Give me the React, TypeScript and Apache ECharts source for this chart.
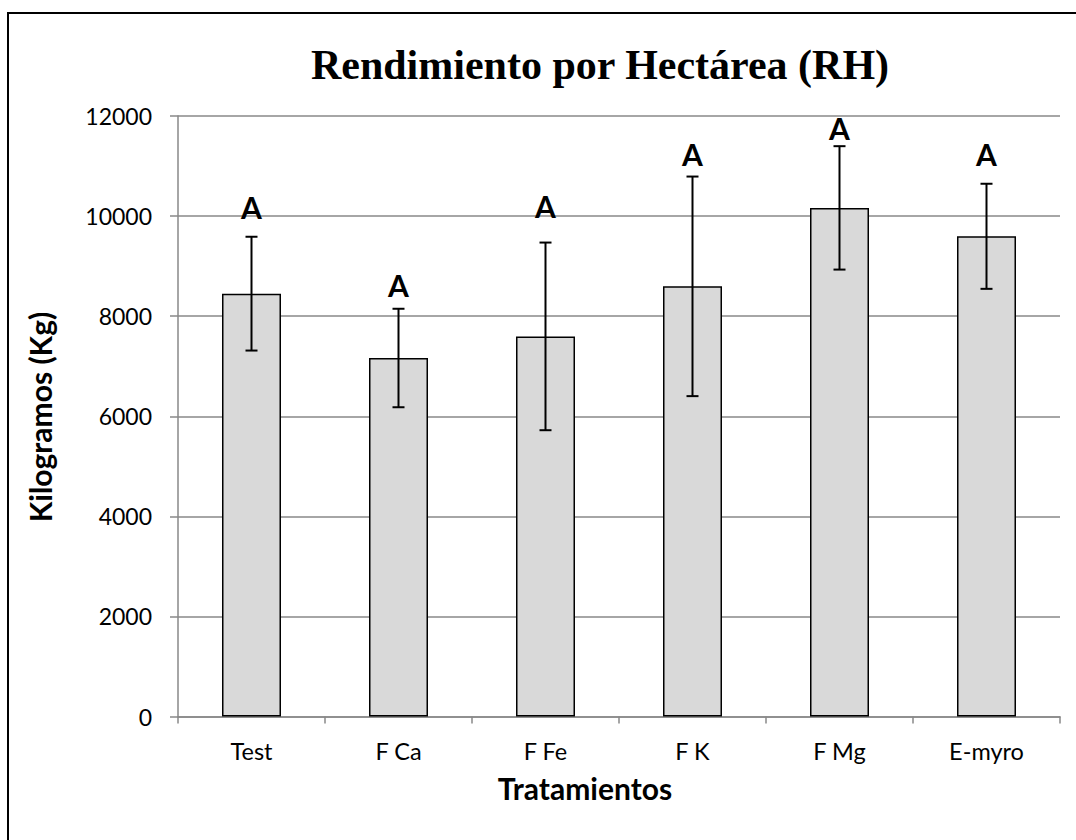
import React, { useEffect, useRef } from "react";
import * as echarts from "echarts";

const categories = ["Test", "F Ca", "F Fe", "F K", "F Mg", "E-myro"];
const means = [8450, 7164, 7596, 8596, 10164, 9596];
const errors = [1137, 984, 1875, 2194, 1233, 1050];
const letters = ["A", "A", "A", "A", "A", "A"];
const letterLevels = [9970, 8410, 9984, 11030, 11550, 11030];
const yTicks = { min: 0, max: 12000, interval: 2000 };

const GRAY = "#888888";

export default function App() {
  const ref = useRef<HTMLDivElement>(null);
  useEffect(() => {
    if (!ref.current) return;
    const chart = echarts.init(ref.current, undefined, { renderer: "svg" });
    const errData = categories.map((_, i) => [i, means[i] - errors[i], means[i] + errors[i]]);
    const letterData = categories.map((_, i) => [i, letterLevels[i]]);
    chart.setOption({
      animation: false,
      backgroundColor: "#ffffff",
      grid: { left: 178, right: 16, top: 116, bottom: 123.5, containLabel: false },
      xAxis: {
        type: "category",
        data: categories,
        axisLine: { show: true, lineStyle: { color: GRAY, width: 1.5 } },
        axisTick: { show: true, length: 7, lineStyle: { color: GRAY, width: 1.5 } },
        axisLabel: { fontFamily: "Lato", fontSize: 23.5, color: "#000", margin: 22 },
      },
      yAxis: {
        type: "value",
        min: yTicks.min,
        max: yTicks.max,
        interval: yTicks.interval,
        axisLine: { show: true, lineStyle: { color: GRAY, width: 1.5 } },
        axisTick: { show: true, length: 8, lineStyle: { color: GRAY, width: 1.5 } },
        splitLine: { show: true, lineStyle: { color: GRAY, width: 1.5 } },
        axisLabel: {
          fontFamily: "Lato",
          fontSize: 23,
          color: "#000",
          margin: 26,
          formatter: (v: number) => String(v),
        },
      },
      series: [
        {
          type: "bar",
          data: means,
          barWidth: 59,
          itemStyle: { color: "#d9d9d9", borderColor: "#000", borderWidth: 1.5 },
          z: 2,
        },
        {
          type: "custom",
          data: errData,
          z: 3,
          renderItem: (params: any, api: any) => {
            const x = api.value(0);
            const lo = api.coord([x, api.value(1)]);
            const hi = api.coord([x, api.value(2)]);
            const hw = 6;
            const st = { stroke: "#000", lineWidth: 2 };
            return {
              type: "group",
              children: [
                { type: "line", shape: { x1: lo[0], y1: lo[1], x2: hi[0], y2: hi[1] }, style: st },
                { type: "line", shape: { x1: lo[0] - hw, y1: lo[1], x2: lo[0] + hw, y2: lo[1] }, style: st },
                { type: "line", shape: { x1: hi[0] - hw, y1: hi[1], x2: hi[0] + hw, y2: hi[1] }, style: st },
              ],
            };
          },
        },
        {
          type: "scatter",
          data: letterData,
          symbolSize: 0,
          z: 4,
          itemStyle: { opacity: 1 },
          label: {
            show: true,
            position: "top",
            distance: -4,
            formatter: (p: any) => letters[p.dataIndex],
            fontFamily: "Lato",
            fontWeight: "bold",
            fontSize: 30,
            color: "#000",
            opacity: 1,
            textBorderWidth: 0,
          },
        },
      ],
      graphic: [
        {
          type: "rect",
          shape: { x: 8, y: 13, width: 1200, height: 1000 },
          style: { fill: "none", stroke: "#000", lineWidth: 2 },
          silent: true,
        },
        {
          type: "text",
          x: 600,
          y: 65,
          style: {
            text: "Rendimiento por Hectárea (RH)",
            font: 'bold 42px "Liberation Serif"',
            fill: "#000",
            textAlign: "center",
            textVerticalAlign: "middle",
          },
        },
        {
          type: "text",
          x: 585,
          y: 788,
          style: {
            text: "Tratamientos",
            font: 'bold 30px "Lato"',
            fill: "#000",
            textAlign: "center",
            textVerticalAlign: "middle",
          },
        },
        {
          type: "text",
          x: 40,
          y: 417,
          rotation: Math.PI / 2,
          style: {
            text: "Kilogramos (Kg)",
            font: 'bold 30px "Lato"',
            fill: "#000",
            textAlign: "center",
            textVerticalAlign: "middle",
          },
        },
      ],
    });
    return () => chart.dispose();
  }, []);
  return (
    <div
      ref={ref}
      style={{ position: "absolute", left: 0, top: 0, width: 1076, height: 840 }}
    />
  );
}
